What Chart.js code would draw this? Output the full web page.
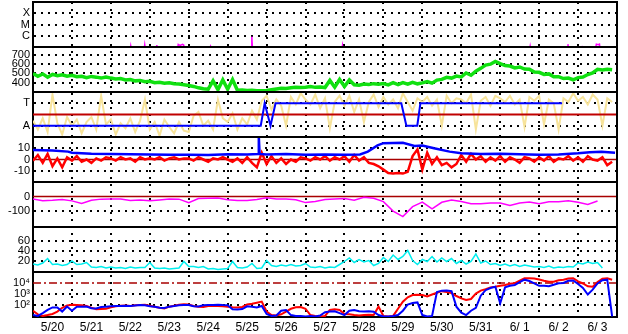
<!DOCTYPE html>
<html>
<head>
<meta charset="utf-8">
<script src="https://cdn.jsdelivr.net/npm/chart.js@4.4.1/dist/chart.umd.min.js"></script>
<style>
  html, body { margin: 0; padding: 0; background: #fff; }
  #wrap { width: 628px; height: 334px; }
</style>
</head>
<body>
<div id="wrap"><canvas id="spaceWeather" width="628" height="334"></canvas></div>
<script>
// days since 5/20 00:00, one label per day (drawn at noon)
const dayLabels = ['5/20','5/21','5/22','5/23','5/24','5/25','5/26','5/27','5/28','5/29','5/30','5/31','6/ 1','6/ 2','6/ 3'];
const STEP = 0.125; // 3-hourly samples

// x-ray flux (W/m2), sparse events
const xrayDay  = [0, 2.49, 2.51, 2.53, 2.85, 2.87, 2.89, 3.16, 3.18, 3.2, 3.71, 3.73, 3.78, 3.84, 3.87, 3.89, 4.52, 4.56, 4.6, 5.6, 5.62, 5.64, 7.93, 7.95, 7.97, 12.75, 12.77, 12.79, 13.72, 13.74, 13.76, 14.08, 14.1, 14.12, 14.44, 14.47, 14.52, 14.55, 14.57, 14.6];
const xrayFlux = [5e-8, 5e-8, 1.25e-7, 5e-8, 5e-8, 1.6e-7, 5e-8, 5e-8, 1.5e-7, 5e-8, 5e-8, 1.7e-7, 1.4e-7, 1.7e-7, 1.5e-7, 5e-8, 5e-8, 1.2e-7, 5e-8, 5e-8, 8.3e-7, 5e-8, 5e-8, 1.4e-7, 5e-8, 5e-8, 1.2e-7, 5e-8, 5e-8, 1.8e-7, 5e-8, 5e-8, 1.25e-7, 5e-8, 5e-8, 1.8e-7, 1.6e-7, 1.8e-7, 5e-8, 5e-8];
const xrayTicks  = [1e-6, 1e-5, 1e-4];
const xrayLabels = ['C', 'M', 'X'];

// solar wind speed (km/s)
const speed = [
  500,470,495,460,490,475,485,470,
  480,465,470,455,468,460,450,462,
  450,440,445,430,435,420,425,410,
  415,400,405,395,400,390,385,378,
  370,360,345,335,330,420,325,430,
  330,435,318,322,315,318,314,314,
  316,325,332,340,338,345,350,348,
  352,358,350,355,348,425,352,435,
  360,430,378,372,385,380,390,384,
  392,376,400,380,402,384,405,388,
  398,412,395,428,436,458,450,472,
  462,505,480,525,555,590,600,630,
  605,585,580,560,570,548,545,515,
  512,490,495,465,465,445,450,432,
  455,462,488,505,545,538,545,540
];
const speedTicks = [400, 500, 600, 700];

// IMF angle (deg) and sector polarity
const phi = [
  130,60,150,40,340,110,20,160,
  90,140,30,120,160,60,330,100,
  140,20,110,70,150,40,130,300,
  60,120,10,140,80,30,120,50,
  40,170,200,90,130,60,300,150,
  120,190,60,150,100,210,140,290,
  330,220,300,250,90,320,260,350,
  300,260,340,230,310,70,280,330,
  250,330,200,300,120,280,340,240,
  320,260,300,230,350,280,210,310,
  280,320,250,300,90,330,270,310,
  300,270,340,60,290,320,250,330,
  310,280,330,260,300,80,320,290,
  330,100,300,270,60,310,280,350,
  290,320,260,340,300,90,310,280
];
const sectorDay = [0, 5.85, 5.95, 6.1, 6.23, 9.46, 9.59, 9.87, 9.95, 13.59];
const sectorVal = [90, 90, 270, 90, 270, 270, 90, 90, 270, 270];
const sectorMid = 180;
const sectorTicks  = [90, 270];
const sectorLabels = ['A', 'T'];

// IMF Bt and Bz (nT)
const btDay = [0, 0.5, 0.9, 1, 1.5, 2, 2.5, 3, 3.5, 4, 4.5, 5, 5.5, 5.78, 5.8, 5.82, 6, 6.5, 7, 7.5, 8, 8.4, 8.6, 8.85, 9, 9.5, 9.8, 10, 10.3, 10.7, 11, 11.5, 12, 12.5, 13, 13.5, 14, 14.3, 14.6, 14.95];
const btVal = [8.5, 8, 7, 6, 5.2, 4.8, 4.6, 4.4, 4.2, 4.2, 4, 4.6, 4.5, 4.8, 20, 5, 4.5, 4.8, 4.2, 4.5, 4.2, 4.5, 7, 12.5, 14.5, 14.8, 12, 12.5, 10, 7, 5.5, 4.8, 5, 4.6, 4.3, 4.5, 5.5, 6.5, 6.8, 6];
const bz = [
  -1,4,-3,5,-6,1,-7,2,
  -1,3,-2,0,-3,1,-1,2,
  1,-1,2,0,1,-2,2,0,
  1,0,2,-1,1,2,0,1,
  1,-1,2,0,-2,1,0,2,
  0,-2,1,-3,2,-3,-7,6,
  -4,3,-3,1,-4,0,-2,2,
  1,-1,2,0,3,-1,2,0,
  3,-2,4,-1,2,-3,-4,-6,
  -9,-12,-12.5,-12,-12.5,-11,3,9,
  -9,6,-4,2,-5,-3,-7,-4,
  4,-2,5,0,3,-2,2,-1,
  3,-2,2,0,-3,2,1,-2,
  2,-1,3,-2,1,0,3,-1,
  2,-2,3,0,-1,2,-5,-2
];
const bTicks = [-10, 0, 10];

// Dst (nT), 6-hourly
const dst = [-17,-29,-26,-20,-30,-48,-26,-18,-17,-17,-28,-24,-30,-24,-17,-18,-42,-14,-12,-10,-22,-27,-27,-20,-8,-17,-17,-22,-42,-35,-20,-17,-14,-25,-5,-12,-35,-100,-138,-70,-38,-85,-40,-24,-34,-50,-50,-44,-44,-62,-44,-38,-50,-36,-36,-29,-40,-55,-31];
const dstTicks = [-100, 0];

// proton density
const density = [
  13,11,15,24,12,13,10,12,
  19,12,13,16,7,6,8,5,
  7,5,6,4,7,5,6,6,
  16,5,4,5,3,4,5,18,
  8,8,6,8,3,4,2,3,
  4,18,6,5,7,14,4,5,
  20,10,8,11,9,12,9,10,
  14,7,6,8,5,7,6,12,
  18,25,16,22,17,20,10,14,
  26,18,31,22,28,40,20,12,
  22,18,28,17,25,18,24,14,
  20,13,18,33,15,19,12,14,
  10,13,9,12,8,11,9,7,
  8,6,9,5,7,6,8,7,
  15,13,17,14,16,5
];
const densityTicks = [20, 40, 60];

// particle flux, two channels
const fluxRed = [
  30,14,10,12,15,25,55,90,
  105,100,95,80,55,40,42,45,
  60,75,85,90,80,95,100,102,
  85,70,55,48,70,85,105,115,
  110,80,70,65,80,85,80,75,
  70,63,60,65,110,130,160,200,
  25,12,11,14,25,45,62,65,
  45,12,10,9,10,35,40,35,
  15,14,12,11,12,13,12,70,
  10,9,10,45,200,500,800,850,
  800,600,900,1300,1800,1500,1200,650,
  400,280,350,1100,2000,2700,4000,4600,
  5500,6500,8500,9500,16000,27000,27000,26000,
  21000,16000,13000,13000,18000,20000,25000,27000,
  14000,9000,5000,4500,12000,24000,27000,20000
];
const fluxBlue = [
  12,10,18,35,60,60,25,72,
  30,70,68,72,50,48,65,70,
  75,80,82,85,80,90,100,95,
  75,68,55,52,70,80,95,100,
  100,75,72,95,100,100,105,98,
  95,40,38,42,75,70,60,80,
  15,10,11,30,35,12,10,10,
  9,10,9,11,22,25,26,18,
  12,30,35,27,26,27,24,12,
  9,9,10,12,30,110,150,170,
  12,9,10,1500,2000,2100,1800,70,
  20,12,30,55,700,2200,3500,4500,
  140,4000,5500,6600,12000,20000,15000,9400,
  5500,5500,5000,7000,9400,10000,16000,17000,
  8000,3600,900,2500,9000,18000,20000,9
];
const fluxAlert = 1e4;
const fluxTicks  = [100, 1000, 10000];
const fluxLabels = ['10\u00B2', '10\u00B3', '10\u2074'];

const evenly = (vals, step = STEP) => vals.map((v, i) => ({ x: i * step, y: v }));
const paired = (days, vals) => days.map((d, i) => ({ x: d, y: vals[i] }));
const flat = v => [{ x: 0, y: v }, { x: dayLabels.length, y: v }];

const FONT = "'Liberation Sans', Arial, Helvetica, sans-serif";
const HIDE = 'rgba(0,0,0,0)';

function panelAxis(order, type, min, max, tickVals, tickLabels, noGrid = []) {
  return {
    type, min, max,
    position: 'left',
    stack: 'panels',
    stackWeight: 1,
    weight: order,
    afterFit: s => { s.width = 33; s.paddingTop = 0; s.paddingBottom = 0; },
    afterBuildTicks: s => { s.ticks = tickVals.map(v => ({ value: v })); },
    grid: {
      drawTicks: false,
      lineWidth: 2,
      color: c => (c.tick && noGrid.includes(c.tick.value)) ? HIDE : '#000'
    },
    border: { display: true, color: '#000', width: 2, dash: [2, 5] },
    ticks: {
      autoSkip: false,
      padding: 3,
      color: '#000',
      font: { family: FONT, size: 11 },
      callback: (v, i) => tickLabels ? tickLabels[i] : String(v)
    }
  };
}

function line(yAxisID, data, color, width, extra) {
  return Object.assign({
    yAxisID, data,
    borderColor: color,
    borderWidth: width,
    pointRadius: 0,
    tension: 0,
    fill: false
  }, extra || {});
}

// keep each series inside its own panel
const panelClip = {
  id: 'panelClip',
  beforeDatasetDraw(chart, args) {
    const y = args.meta.yScale, a = chart.chartArea, ctx = chart.ctx;
    ctx.save();
    ctx.beginPath();
    ctx.rect(a.left, y.top, a.right - a.left, y.bottom - y.top);
    ctx.clip();
  },
  afterDatasetDraw(chart) { chart.ctx.restore(); }
};

// panel separators and right edge
const panelFrame = {
  id: 'panelFrame',
  afterDatasetsDraw(chart) {
    const { ctx, chartArea: a } = chart;
    ctx.save();
    ctx.strokeStyle = '#000';
    ctx.lineWidth = 2;
    ctx.beginPath();
    ['yXray', 'ySpeed', 'yPhi', 'yB', 'yDst', 'yDens', 'yFlux'].forEach(id => {
      const top = Math.round(chart.scales[id].top);
      ctx.moveTo(a.left, top);
      ctx.lineTo(a.right + 1, top);
    });
    ctx.moveTo(Math.round(a.right), a.top - 1);
    ctx.lineTo(Math.round(a.right), a.bottom + 1);
    ctx.stroke();
    ctx.restore();
  }
};

const tickDays = [];
dayLabels.forEach((d, i) => { tickDays.push(i, i + 0.5); });
tickDays.push(dayLabels.length);

const DARKRED = '#a80000';

new Chart(document.getElementById('spaceWeather'), {
  type: 'line',
  data: {
    datasets: [
      line('yFlux', evenly(fluxBlue), '#0000ff', 2),
      line('yFlux', evenly(fluxRed), '#ff0000', 2),
      line('yFlux', flat(fluxAlert), DARKRED, 1.5, { borderDash: [8, 3, 2, 3] }),
      line('yDens', evenly(density), '#00eeee', 1.5),
      line('yDst', evenly(dst, 0.25), '#ff00ff', 1.5),
      line('yDst', flat(0), DARKRED, 1.5),
      line('yB', paired(btDay, btVal), '#0000ff', 2.5),
      line('yB', evenly(bz), '#ff0000', 2.5),
      line('yB', flat(0), DARKRED, 1.5),
      line('yPhi', paired(sectorDay, sectorVal), '#0000ff', 2),
      line('yPhi', flat(sectorMid), '#c00000', 2),
      line('yPhi', evenly(phi), '#f7e39a', 2),
      line('ySpeed', evenly(speed), '#10e010', 3.5),
      line('yXray', paired(xrayDay, xrayFlux), '#ff00ff', 1.5)
    ]
  },
  options: {
    responsive: false,
    animation: false,
    events: [],
    layout: { autoPadding: false, padding: { top: 2, right: 11, bottom: 0, left: 0 } },
    plugins: { legend: { display: false }, tooltip: { enabled: false } },
    scales: {
      x: {
        type: 'linear',
        min: 0,
        max: dayLabels.length,
        position: 'bottom',
        afterFit: s => { s.height = 17; s.paddingLeft = 0; s.paddingRight = 0; },
        afterBuildTicks: s => { s.ticks = tickDays.map(v => ({ value: v })); },
        grid: {
          drawTicks: false,
          lineWidth: 2,
          color: c => (c.tick && c.tick.value % 1 === 0 && c.tick.value > 0 && c.tick.value < dayLabels.length) ? '#000' : HIDE
        },
        border: { display: true, color: '#000', width: 2, dash: [2, 5] },
        ticks: {
          autoSkip: false,
          maxRotation: 0,
          padding: 3,
          color: '#000',
          font: { family: FONT, size: 12 },
          callback: v => (v % 1 === 0.5) ? dayLabels[Math.floor(v)] : ''
        }
      },
      yXray:  panelAxis(7, 'logarithmic', 1e-7, 1e-3, xrayTicks, xrayLabels),
      ySpeed: panelAxis(6, 'linear', 300, 785, speedTicks),
      yPhi:   panelAxis(5, 'linear', 0, 360, sectorTicks, sectorLabels),
      yB:     panelAxis(4, 'linear', -20, 20, bTicks, null, [0]),
      yDst:   panelAxis(3, 'linear', -210, 100, dstTicks, null, [0]),
      yDens:  panelAxis(2, 'linear', -3, 87, densityTicks),
      yFlux:  panelAxis(1, 'logarithmic', 8, 1e5, fluxTicks, fluxLabels, [1e4])
    }
  },
  plugins: [panelClip, panelFrame]
});
</script>
</body>
</html>
